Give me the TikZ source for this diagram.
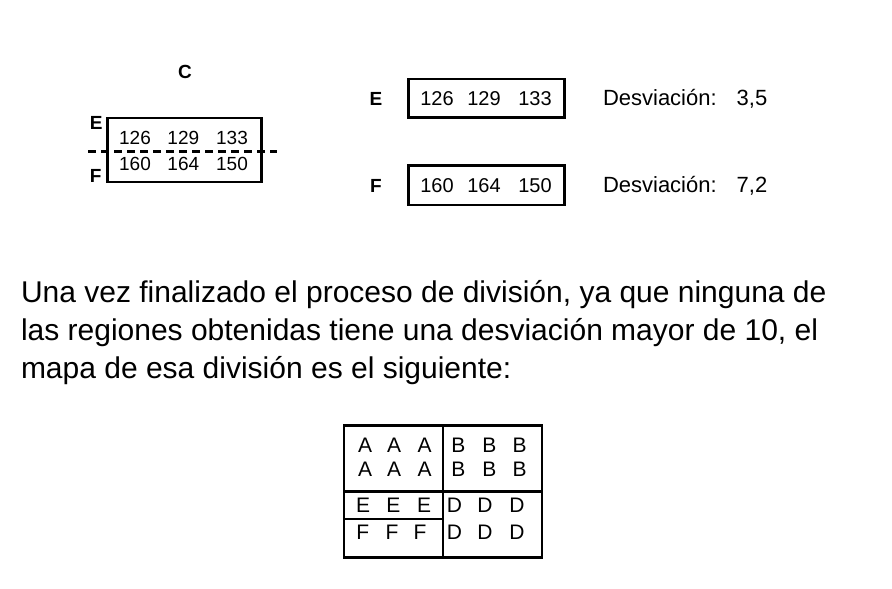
\documentclass[tikz,border=0pt]{standalone}
\usepackage{fontspec}
\setmainfont{Liberation Sans}
\begin{document}
\begin{tikzpicture}[x=1pt,y=-1pt,
  every node/.style={inner sep=0pt, outer sep=0pt},
  boxline/.style={draw, line width=2.6pt},
  lbl/.style={font=\fontsize{19}{22}\selectfont\bfseries},
  cnum/.style={font=\fontsize{19}{22}\selectfont},
  enum/.style={font=\fontsize{20}{24}\selectfont},
  desv/.style={font=\fontsize{22}{26}\selectfont, anchor=base west},
  para/.style={font=\fontsize{30}{36}\selectfont, anchor=base west},
  gl/.style={font=\fontsize{21}{25}\selectfont},
  dashline/.style={line width=2.6pt, dash pattern=on 8pt off 5pt}]
\useasboundingbox (0,0) rectangle (892,589);
% left box C
\node[lbl] (lc) at (185,71.7) {C};
\node[boxline, minimum width=153.6pt, minimum height=64pt] (cbox) at (184.5,150) {};
\node[lbl] (le) at (96.2,122.5) {E};
\node[lbl] (lf) at (95.7,175.5) {F};
\coordinate (dl) at (88.3,151.7);
\coordinate (dr) at (277.3,151.7);
\draw[dashline] (dl) -- (dr);
\node[cnum] (c1) at (135,138.3) {126};
\node[cnum] (c2) at (183.3,138.3) {129};
\node[cnum] (c3) at (232,138.3) {133};
\node[cnum] (c4) at (135,164.2) {160};
\node[cnum] (c5) at (183.3,164.2) {164};
\node[cnum] (c6) at (232,164.2) {150};
% E and F boxes
\node[lbl] (re) at (376,98.5) {E};
\node[boxline, minimum width=156pt, minimum height=38.5pt] (ebox) at (486.5,98.25) {};
\node[enum] (e1) at (437,99) {126};
\node[enum] (e2) at (484,99) {129};
\node[enum] (e3) at (535,99) {133};
\node[desv] (de) at (603,105) {Desviación:\hspace{20pt}3,5};
\node[lbl] (rf) at (376,185.5) {F};
\node[boxline, minimum width=156pt, minimum height=39.7pt] (fbox) at (486.5,185.2) {};
\node[enum] (f1) at (437,185.7) {160};
\node[enum] (f2) at (484,185.7) {164};
\node[enum] (f3) at (535,185.7) {150};
\node[desv] (df) at (603,192) {Desviación:\hspace{20pt}7,2};
% paragraph
\node[para] (p1) at (21,302) {Una vez finalizado el proceso de división, ya que ninguna de};
\node[para] (p2) at (21,340) {las regiones obtenidas tiene una desviación mayor de 10, el};
\node[para] (p3) at (21,378) {mapa de esa división es el siguiente:};
% grid
\node[draw, line width=2.7pt, minimum width=198pt, minimum height=132pt] (grid) at (443,491.5) {};
\draw[line width=2.3pt] (grid.north) -- (grid.south);
\draw[line width=2.7pt] (grid.west) -- (grid.east);
\coordinate (efl) at (344,519);
\coordinate (efr) at (443,519);
\draw[line width=1.4pt] (efl) -- (efr);
\node[gl] (a1) at (365,445) {A};
\node[gl] (a2) at (394,445) {A};
\node[gl] (a3) at (424.7,445) {A};
\node[gl] (a4) at (365,469.7) {A};
\node[gl] (a5) at (394,469.7) {A};
\node[gl] (a6) at (424.7,469.7) {A};
\node[gl] (b1) at (458.3,445) {B};
\node[gl] (b2) at (489.3,445) {B};
\node[gl] (b3) at (519.7,445) {B};
\node[gl] (b4) at (458.3,469.7) {B};
\node[gl] (b5) at (489.3,469.7) {B};
\node[gl] (b6) at (519.7,469.7) {B};
\node[gl] (g1) at (363,505.7) {E};
\node[gl] (g2) at (393.3,505.7) {E};
\node[gl] (g3) at (424,505.7) {E};
\node[gl] (h1) at (362.7,532.3) {F};
\node[gl] (h2) at (392,532.3) {F};
\node[gl] (h3) at (420,532.3) {F};
\node[gl] (d1) at (454.5,505.7) {D};
\node[gl] (d2) at (485,505.7) {D};
\node[gl] (d3) at (517,505.7) {D};
\node[gl] (d4) at (454.5,532.3) {D};
\node[gl] (d5) at (485,532.3) {D};
\node[gl] (d6) at (517,532.3) {D};
\end{tikzpicture}
\end{document}
